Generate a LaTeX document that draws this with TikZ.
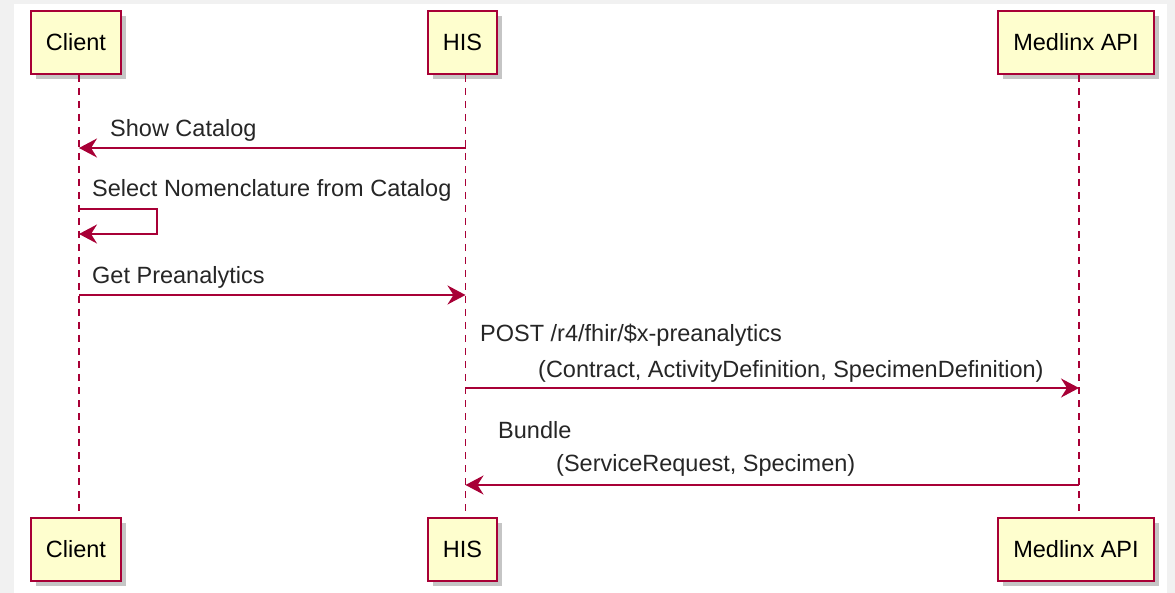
\documentclass[tikz,border=0pt]{standalone}
\usepackage{fontspec}
\setmainfont{Liberation Sans}
\usetikzlibrary{arrows.meta,shadows}
\definecolor{umlred}{HTML}{A80036}
\definecolor{umlfill}{HTML}{FEFECE}
\definecolor{umlback}{HTML}{F1F1F1}
\begin{document}
\begin{tikzpicture}[x=1pt,y=-1pt,
    font=\fontsize{23.5}{36}\selectfont,
    actor/.style={draw=umlred, fill=umlfill, line width=2pt, minimum height=63pt,
        inner xsep=15pt, drop shadow={shadow xshift=5pt, shadow yshift=-5pt, fill=black!45}},
    lifeline/.style={draw=umlred, line width=1.5pt, dash pattern=on 7pt off 6pt},
    msg/.style={draw=umlred, line width=2pt, -{Stealth[length=18pt,width=19pt,inset=6pt]}},
    lbl/.style={anchor=west, inner sep=0pt, align=left, text=black!85}]
    \fill[umlback] (0,0) rectangle (1175,593);
    \fill[white] (14,4) rectangle (1167,593);
    \useasboundingbox (0,0) rectangle (1175,593);

    \node[actor] (cT) at (76,42.5) {Client};
    \node[actor] (hT) at (462.5,42.5) {HIS};
    \node[actor] (mT) at (1076,42.5) {Medlinx API};
    \node[actor] (cB) at (76,549) {Client};
    \node[actor] (hB) at (462.5,549) {HIS};
    \node[actor] (mB) at (1076,549) {Medlinx API};

    \coordinate (lc) at ([xshift=3pt]cT.south);
    \coordinate (lh) at ([xshift=3pt]hT.south);
    \coordinate (lm) at ([xshift=3pt]mT.south);
    \draw[lifeline] (lc) -- ([xshift=3pt]cB.north);
    \draw[lifeline] (lh) -- ([xshift=3pt]hB.north);
    \draw[lifeline] (lm) -- ([xshift=3pt]mB.north);

    \draw[msg] (lh |- 0,148) -- (lc |- 0,148);
    \node[lbl] (show) at (110,130) {Show Catalog};

    \draw[msg] (lc |- 0,209) -- (157,209) -- (157,234) -- (lc |- 0,234);
    \node[lbl] (select) at (92,190) {Select Nomenclature from Catalog};

    \draw[msg] (lc |- 0,295) -- (lh |- 0,295);
    \node[lbl] (get) at (92,277) {Get Preanalytics};

    \draw[msg] (lh |- 0,388) -- (lm |- 0,388);
    \node[lbl] (post) at (480,353) {POST /r4/fhir/\$x-preanalytics\\
        \hspace*{58pt}(Contract, ActivityDefinition, SpecimenDefinition)};

    \draw[msg] (lm |- 0,485) -- (lh |- 0,485);
    \node[lbl, font=\fontsize{23.5}{33}\selectfont] (bundle) at (498,448.5) {Bundle\\
        \hspace*{58pt}(ServiceRequest, Specimen)};
\end{tikzpicture}
\end{document}
